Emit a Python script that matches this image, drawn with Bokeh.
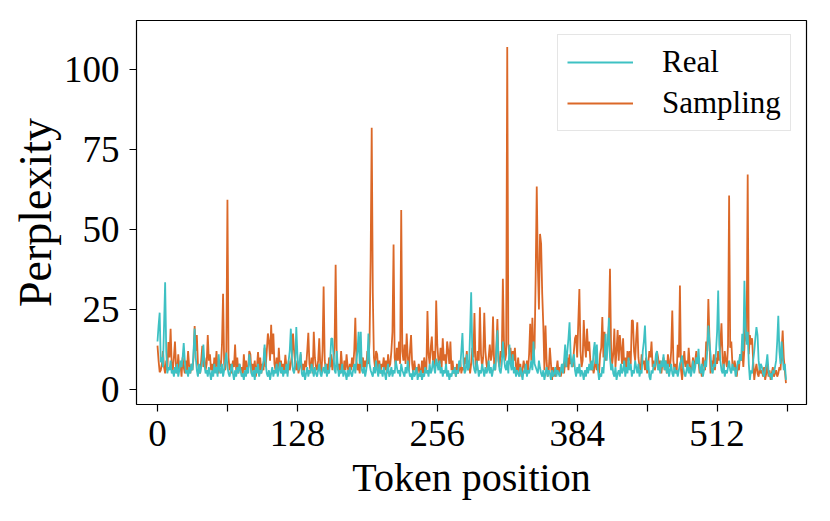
from bokeh.plotting import figure
from bokeh.models import ColumnDataSource, Range1d, FixedTicker, Legend, LegendItem
from bokeh.embed import file_html
from bokeh.resources import INLINE

# ---- data ----
real = [
    15, 20, 24, 8.5, 10, 7, 20, 33.5, 12, 5, 7, 6, 9, 5, 6, 4,
    7, 5, 8, 4, 6, 9, 7, 10, 14.5, 9, 5, 6, 4, 7, 5, 8,
    6, 12, 19, 10, 6, 4, 8, 5, 7, 9, 14, 8, 5, 6, 4, 7,
    5, 3, 6, 4, 8, 5, 7, 4, 11, 6, 5, 8, 4, 6, 9, 11.5,
    7, 5, 4, 6, 8, 5, 3, 6, 4, 7, 5, 8, 6, 4, 5, 3,
    6, 4, 7, 5, 11, 8, 5, 4, 6, 3, 7, 5, 8, 4, 6, 5,
    7, 9, 14, 8, 5, 4, 6, 3, 5, 7, 4, 6, 5, 8, 4, 6,
    8.5, 5, 7, 4, 6, 5, 8, 4, 9, 12, 19, 10, 6, 5, 8, 19.5,
    11, 6, 8, 11.7, 5, 4, 6, 3, 5, 7, 4, 6, 5, 8, 6, 4,
    7, 5, 4, 6, 8, 5, 4, 6, 7, 5, 8, 4, 6, 5, 9, 16,
    15.8, 11, 6, 5, 12, 7, 4, 6, 5, 8, 4, 6, 5, 3, 6, 4,
    7, 5, 4, 6, 8, 5, 9, 12, 18, 8, 18, 6, 5, 7, 4, 6,
    9, 17.5, 8, 6, 5, 4, 7, 5, 9, 6, 4, 8, 5, 6, 4, 7,
    5, 3, 6, 8, 4, 5, 7, 4, 6, 5, 9, 7, 5, 6, 4, 8,
    6, 5, 4, 7, 5, 9, 6, 4, 5, 3, 6, 4, 5, 7, 3, 5,
    4, 6, 3, 5, 4, 7, 5, 6, 4, 8, 5, 6, 9, 7, 5, 9.6,
    8, 6, 9, 5, 7, 4, 6, 5, 8, 4, 6, 3, 5, 4, 6, 5,
    7, 4, 6, 5, 9, 7, 12, 17.6, 8, 5, 6, 11, 6, 7, 18, 30.4,
    12, 8, 6, 5, 9, 7, 4, 6, 5, 8, 6, 4, 7, 5, 6, 9,
    5, 7, 4, 6, 8, 6, 12, 18.5, 9, 6, 5, 8, 15, 10, 7, 6,
    9, 5, 14, 8, 6, 11, 5, 7, 4, 6, 5, 4, 7, 5, 3, 6,
    5, 8, 4, 6, 5, 7, 9, 6, 15, 8, 7, 6, 5, 9, 6.7, 5,
    4, 6, 3, 5, 7, 4, 6, 5, 3, 6, 4, 5, 7, 4, 6, 5,
    4, 6, 8, 5, 9, 14, 7, 12, 16, 21, 11, 7, 9, 11, 6, 4,
    7, 5, 8, 4, 6, 5, 3, 6, 4, 7, 5, 8, 6, 9, 6, 12,
    14.8, 8, 14, 6, 3, 5, 4, 7, 5, 10, 17.4, 9, 14, 22.4, 10, 6,
    8, 5, 4, 7, 3, 5, 6, 4, 8, 5, 6, 9, 4, 7, 5, 10,
    6, 8, 4, 6, 5, 9, 7, 5, 8, 4, 6, 5, 12, 15, 20, 11,
    6, 9, 4, 3, 6, 5, 8, 7, 11, 12, 6, 8, 5, 9, 7, 11,
    6, 9, 5, 8, 4, 6, 8, 5, 4, 7, 5, 6, 4, 6, 8, 9,
    10.6, 7, 5, 4, 6, 8, 5, 7, 4, 6, 9, 5, 7, 10, 8, 12.7,
    7, 5, 8, 4, 6, 9, 7, 12, 20, 15, 11, 6, 5, 8, 7, 12,
    18, 30.9, 14, 9, 6, 5, 8, 4, 6, 5, 7, 9, 6, 5, 8, 6,
    7, 4, 6, 9, 8, 11, 9, 17.4, 12, 34, 20, 14, 18, 8, 3, 6,
    5, 9, 12, 16, 19.5, 17, 9, 6, 8, 7, 5, 4, 6, 8, 11, 6,
    4, 5, 3, 6, 5, 7, 9, 15, 23, 12, 8, 15, 10, 6, 8, 3,
]

sampling = [
    13.7, 9, 5.4, 6, 8, 12, 7, 5, 9, 6, 14.8, 10, 19, 8, 6, 10,
    15, 7, 5, 11, 6, 8, 4, 10, 7, 5, 9, 6, 12, 7, 5, 8,
    6, 10, 19.8, 12, 17, 8, 6, 5, 9, 13.6, 7, 10, 6, 8, 17, 9,
    11, 6, 8, 5, 10, 7, 12, 6, 5, 9, 7, 14, 29.9, 8, 6, 12,
    59.3, 10, 6, 8, 5, 9, 7, 14, 6, 10, 5, 8, 6, 7, 4, 11,
    6, 9, 5, 7, 12, 11, 5, 8, 6, 9, 4, 7, 11.7, 6, 10, 5,
    8, 6, 13, 7, 12, 17.5, 15, 9, 20.2, 11, 17.5, 8, 6, 10, 5, 13,
    7, 9, 5, 8, 6, 10.8, 7, 5, 9, 6, 8, 11, 17.5, 12, 8, 6,
    9, 5, 7, 11, 6, 8, 5, 9, 7, 12, 17.7, 8, 6, 10, 5, 18,
    10, 7, 6, 9, 16, 7, 5, 12, 32.2, 9, 6, 8, 5, 10, 7, 11,
    6, 9, 13, 39, 10, 6, 8, 5, 12, 7, 5, 9, 6, 11, 7, 5,
    8, 6, 10, 7, 12, 22.4, 9, 6, 8, 5, 11, 7, 10, 6, 9, 7,
    12, 8, 15, 40, 81.8, 30, 10, 7, 12, 11, 6, 9, 5, 8, 7, 10,
    6, 9, 5, 11, 7, 8, 12, 18, 45.3, 10, 7, 13, 9, 15, 8, 56.1,
    12, 9, 14, 8, 17.5, 10, 6, 12, 17, 8, 5, 9, 6, 7, 5, 8,
    6, 4, 9, 5, 10, 7, 6, 24.5, 11, 8, 13, 16.5, 9, 12, 6, 27.8,
    14, 9, 8, 13, 7, 16, 9, 11, 7, 15, 12, 8, 15, 6, 9, 5,
    7, 4, 8, 5, 6, 9, 5, 7, 6, 10, 8, 12, 6, 9, 5, 8,
    13, 10, 23.9, 8, 6, 12, 9, 25.7, 11, 7, 10, 24, 12, 8, 6, 10,
    14, 9, 11, 22.8, 8, 6, 13, 22, 9, 7, 12, 10, 34.6, 15, 9, 11,
    107, 14, 11, 13, 8, 12, 9, 13, 7, 6, 10, 5, 8, 4, 6, 9,
    7, 5, 9, 6, 11, 20.5, 9, 22.4, 11, 13, 35, 63.4, 38.2, 25, 48.6, 45.5,
    30, 20, 6, 20, 9, 4, 6, 13, 8, 3, 7, 5, 4, 6, 9, 5,
    7, 4, 6, 8, 5, 9, 7, 10, 6, 11, 8, 9, 7, 12, 16, 17,
    10, 21, 31.4, 12, 7, 9, 21.7, 14, 10, 19, 12, 15, 9, 6, 8, 5,
    7, 10, 6, 8, 5, 11, 13, 22.6, 10, 18, 9, 12, 15, 20, 37.7, 13,
    8, 11, 19, 7, 12, 18.6, 9, 17, 13, 8, 16, 7, 10, 6, 12, 9,
    12, 8, 21.6, 21.5, 12, 9, 16, 21, 10, 7, 6, 11, 8, 9, 6, 10,
    5, 8, 12, 10, 15, 7, 9, 6, 8, 12, 10, 7, 9, 5, 8, 10,
    6, 9, 5, 11, 8, 7, 12, 24.7, 9, 6, 8, 5, 14, 10, 32.5, 6,
    3, 8, 12, 7, 9, 6, 13, 8, 5, 7, 10, 6, 9, 12, 8, 9,
    5, 7, 4, 10, 8, 6, 15, 12, 28.3, 16, 5, 9, 7, 11, 6, 10,
    8, 12, 9, 14, 20.7, 10, 6, 12, 9, 7, 14, 60.6, 13, 15, 8, 6,
    9, 7, 4, 8, 6, 11, 9, 12, 7, 13, 25, 15, 67.2, 11, 17, 14,
    16, 9, 3, 6, 8, 5, 4, 7, 5, 6, 4, 7, 3, 5, 8, 4,
    6, 3, 5, 7, 4, 5, 6, 4, 5, 7, 6, 12, 18.4, 10, 6, 2,
]

x_ticks = [0, 64, 128, 192, 256, 320, 384, 448, 512, 576]
x_tick_labels = ["0", "", "128", "", "256", "", "384", "", "512", ""]
y_ticks = [0, 25, 50, 75, 100]
series_names = ["Real", "Sampling"]

FONT = "Liberation Serif"
TEAL = "#3ec1c3"
ORANGE = "#db6828"

src_real = ColumnDataSource(dict(x=list(range(len(real))), y=real))
src_samp = ColumnDataSource(dict(x=list(range(len(sampling))), y=sampling))

p = figure(width=814, height=505, output_backend="svg", toolbar_location=None,
           x_range=Range1d(-19.2, 593.8), y_range=Range1d(-4.7, 115.3),
           min_border_left=136, min_border_right=8, min_border_top=20,
           min_border_bottom=101)

r_samp = p.line("x", "y", source=src_samp, line_color=ORANGE, line_width=1.8)
r_real = p.line("x", "y", source=src_real, line_color=TEAL, line_width=1.8)

p.xgrid.visible = False
p.ygrid.visible = False
p.outline_line_color = "black"
p.outline_line_width = 1.2
p.background_fill_color = "white"
p.border_fill_color = "white"

p.xaxis.ticker = FixedTicker(ticks=x_ticks)
p.xaxis.major_label_overrides = {t: l for t, l in zip(x_ticks, x_tick_labels)}
p.yaxis.ticker = FixedTicker(ticks=y_ticks)

for ax in (p.xaxis[0], p.yaxis[0]):
    ax.axis_line_color = None
    ax.major_tick_in = 0
    ax.major_tick_out = 7
    ax.major_tick_line_color = "black"
    ax.major_tick_line_width = 1.2
    ax.minor_tick_line_color = None
    ax.major_label_text_font = FONT
    ax.major_label_text_font_size = "37px"
    ax.major_label_text_color = "black"
    ax.axis_label_text_font = FONT
    ax.axis_label_text_font_style = "normal"
    ax.axis_label_text_color = "black"

p.xaxis.axis_label = "Token position"
p.yaxis.axis_label = "Perplexity"
p.xaxis.axis_label_text_font_size = "40px"
p.yaxis.axis_label_text_font_size = "46px"
p.xaxis.major_label_standoff = 9
p.yaxis.major_label_standoff = 10
p.xaxis.axis_label_standoff = 6
p.yaxis.axis_label_standoff = 0

legend = Legend(items=[LegendItem(label=series_names[0], renderers=[r_real]),
                       LegendItem(label=series_names[1], renderers=[r_samp])],
                location=(421, 273))
legend.label_text_font = FONT
legend.label_text_font_size = "31px"
legend.label_text_color = "black"
legend.glyph_width = 66
legend.glyph_height = 30
legend.label_height = 30
legend.label_standoff = 29
legend.spacing = 5
legend.padding = 9
legend.margin = 0
legend.border_line_color = "#cccccc"
legend.border_line_width = 1.2
legend.background_fill_color = "white"
legend.background_fill_alpha = 0.85
p.add_layout(legend, "center")

open("out.html", "w").write(file_html(p, INLINE))
